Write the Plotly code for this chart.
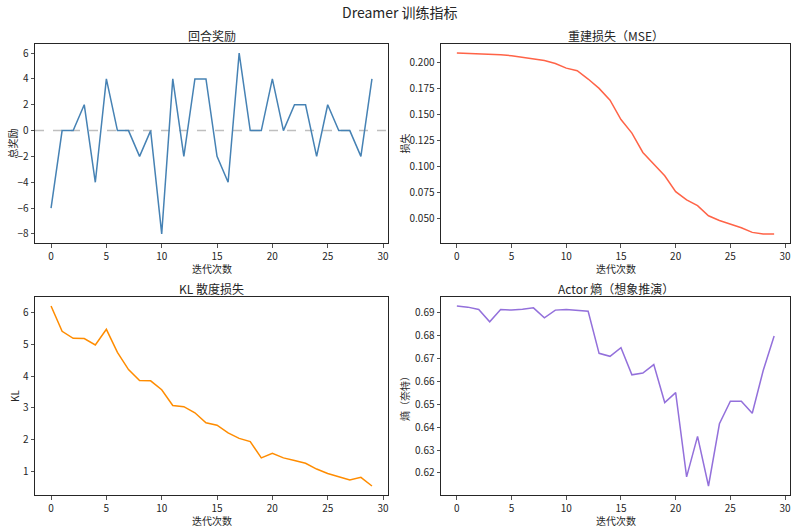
import plotly.graph_objects as go

iterations = list(range(30))
reward = [-6, 0, 0, 2, -4, 4, 0, 0, -2, 0, -8, 4, -2, 4, 4, -2, -4, 6, 0, 0, 4, 0, 2, 2, -2, 2, 0, 0, -2, 4]
mse = [0.2090, 0.2087, 0.2084, 0.2080, 0.2074, 0.2064, 0.2051, 0.2039, 0.2019, 0.1990,
       0.1945, 0.1920, 0.1840, 0.1750, 0.1636, 0.1450, 0.1320, 0.1134, 0.1025, 0.0910,
       0.0757, 0.0677, 0.0622, 0.0525, 0.0480, 0.0445, 0.0410, 0.0365, 0.0350, 0.0350]
kl = [6.19, 5.40, 5.18, 5.17, 4.97, 5.46, 4.74, 4.20, 3.86, 3.85,
      3.57, 3.08, 3.04, 2.85, 2.54, 2.46, 2.22, 2.05, 1.95, 1.44,
      1.58, 1.44, 1.36, 1.27, 1.09, 0.95, 0.85, 0.75, 0.83, 0.56]
entropy = [0.6930, 0.6925, 0.6915, 0.6861, 0.6915, 0.6912, 0.6916, 0.6922, 0.6878, 0.6912,
           0.6915, 0.6910, 0.6907, 0.6723, 0.6710, 0.6748, 0.6629, 0.6637, 0.6674, 0.6508,
           0.6551, 0.6183, 0.6360, 0.6143, 0.6415, 0.6514, 0.6514, 0.6461, 0.6648, 0.6799]

titles = ["回合奖励", "重建损失（MSE）", "KL 散度损失", "Actor 熵（想象推演）"]
ylabels = ["总奖励", "损失", "KL", "熵（奈特）"]
xlabel = "迭代次数"
suptitle = "Dreamer 训练指标"

W, H = 800, 531
FONT = "Noto Sans CJK SC"
TXT = "#262626"

boxes = [  # (x0, x1, ytop, ybot) in window pixels
    (35, 388, 44, 243),
    (441, 790, 44, 243),
    (35, 388, 297, 495),
    (441, 790, 297, 495),
]
ylabel_x = [12, 404, 14, 404]

def px(x):
    return x / W

def py(y):
    return 1 - y / H

def rng(v):
    lo, hi = min(v), max(v)
    m = (hi - lo) * 0.05
    return [lo - m, hi + m]

series = [reward, mse, kl, entropy]
colors = ["#4682b4", "#ff6347", "#ff8c00", "#9370db"]
ytickfmt = [None, ".3f", None, ".2f"]
ydtick = [2, 0.025, 1, 0.01]

fig = go.Figure()
layout = dict(
    width=W, height=H,
    margin=dict(l=0, r=0, t=0, b=0, autoexpand=False),
    paper_bgcolor="white", plot_bgcolor="white",
    showlegend=False,
    font=dict(family=FONT, size=10, color=TXT),
    annotations=[], shapes=[],
)

def ann(text, xpx, ypx, size=10, angle=0):
    return dict(text=text, x=px(xpx), y=py(ypx), xref="paper", yref="paper",
                xanchor="center", yanchor="middle", showarrow=False, textangle=angle,
                font=dict(family=FONT, size=size, color=TXT))

for i, (vals, col) in enumerate(zip(series, colors)):
    x0, x1, yt, yb = boxes[i]
    xa = "xaxis" if i == 0 else f"xaxis{i+1}"
    ya = "yaxis" if i == 0 else f"yaxis{i+1}"
    xr = "x" if i == 0 else f"x{i+1}"
    yr = "y" if i == 0 else f"y{i+1}"
    fig.add_trace(go.Scatter(x=iterations, y=vals, mode="lines",
                             line=dict(color=col, width=1.5),
                             xaxis=xr, yaxis=yr, hoverinfo="skip"))
    common = dict(showline=True, linecolor="#262626", linewidth=1, mirror=True,
                  ticks="outside", ticklen=3.5, tickwidth=0.8, tickcolor="#262626",
                  showgrid=False, zeroline=False, automargin=False,
                  tickfont=dict(family=FONT, size=10, color=TXT))
    layout[xa] = dict(common, domain=[px(x0), px(x1)], anchor=yr,
                      range=[-1.45, 30.45], tickmode="linear", tick0=0, dtick=5)
    yax = dict(common, domain=[py(yb), py(yt)], anchor=xr,
               range=rng(vals), tickmode="linear", tick0=0, dtick=ydtick[i])
    if ytickfmt[i]:
        yax["tickformat"] = ytickfmt[i]
    layout[ya] = yax
    layout["annotations"].append(ann(titles[i], (x0 + x1) / 2, yt - 9, size=12))
    layout["annotations"].append(ann(xlabel, (x0 + x1) / 2, yb + 25))
    layout["annotations"].append(ann(ylabels[i], ylabel_x[i], (yt + yb) / 2, angle=-90))

layout["annotations"].append(ann(suptitle, 400, 12, size=14))

layout["shapes"].append(dict(
    type="line", xref="x domain", yref="y", x0=0, x1=1, y0=0, y1=0,
    line=dict(color="rgba(128,128,128,0.5)", width=1.5, dash="dash"), layer="below"))

fig.update_layout(**layout)
fig.write_html("out.html",
               config={"displayModeBar": False, "staticPlot": True},
               post_script="document.body.style.margin='0';document.body.style.overflow='hidden';")
